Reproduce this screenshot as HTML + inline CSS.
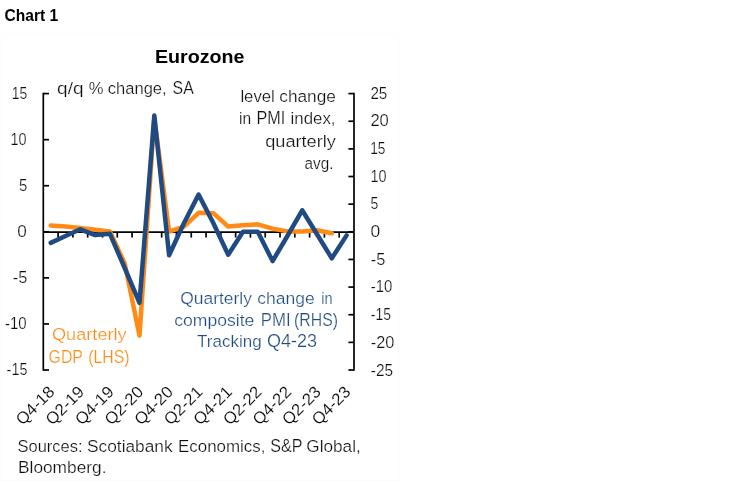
<!DOCTYPE html>
<html lang="en"><head><meta charset="utf-8"><title>Chart 1 - Eurozone</title>
<style>
html,body{margin:0;padding:0;background:#fff;}
body{width:748px;height:483px;overflow:hidden;font-family:"Liberation Sans",sans-serif;}
svg{display:block;}
text{font-family:"Liberation Sans",sans-serif;stroke:#fff;stroke-width:0.24px;}
.h{font-weight:bold;fill:#000;stroke:none;}
.ax{fill:#101010;}
.t{fill:#101010;}
.b{fill:#1f4b82;}
.o{fill:#ff8a15;}
.xl{fill:#0a0a0a;stroke-width:0.12px;}
</style></head><body>
<svg width="748" height="483" viewBox="0 0 748 483">
<rect width="748" height="483" fill="#fff"/>
<rect x="1.5" y="33.5" width="397" height="447" fill="none" stroke="#fbfbfb" stroke-width="1"/>
<text class="h" font-size="15.7" transform="translate(4.60 20.90) scale(0.9935 1)">Chart 1</text>
<text class="h" font-size="19.0" transform="translate(154.90 62.50) scale(1.0358 1)">Eurozone</text>
<g stroke="#000" stroke-width="1.7" fill="none">
<path d="M43.30 92.75V370.85"/>
<path d="M354.00 92.75V370.85"/>
<path d="M43.30 232.10H354.00"/>
<path d="M43.30 93.60h5.7"/>
<path d="M43.30 139.67h5.7"/>
<path d="M43.30 185.73h5.7"/>
<path d="M43.30 231.80h5.7"/>
<path d="M43.30 277.87h5.7"/>
<path d="M43.30 323.93h5.7"/>
<path d="M43.30 370.00h5.7"/>
<path d="M354.00 93.60h-5.6"/>
<path d="M354.00 121.24h-5.6"/>
<path d="M354.00 148.88h-5.6"/>
<path d="M354.00 176.52h-5.6"/>
<path d="M354.00 204.16h-5.6"/>
<path d="M354.00 231.80h-5.6"/>
<path d="M354.00 259.44h-5.6"/>
<path d="M354.00 287.08h-5.6"/>
<path d="M354.00 314.72h-5.6"/>
<path d="M354.00 342.36h-5.6"/>
<path d="M354.00 370.00h-5.6"/>
<path d="M58.10 232.10v5.5"/>
<path d="M72.89 232.10v5.5"/>
<path d="M87.69 232.10v5.5"/>
<path d="M102.48 232.10v5.5"/>
<path d="M117.28 232.10v5.5"/>
<path d="M132.07 232.10v5.5"/>
<path d="M146.87 232.10v5.5"/>
<path d="M161.66 232.10v5.5"/>
<path d="M176.46 232.10v5.5"/>
<path d="M191.25 232.10v5.5"/>
<path d="M206.05 232.10v5.5"/>
<path d="M220.84 232.10v5.5"/>
<path d="M235.64 232.10v5.5"/>
<path d="M250.43 232.10v5.5"/>
<path d="M265.23 232.10v5.5"/>
<path d="M280.02 232.10v5.5"/>
<path d="M294.82 232.10v5.5"/>
<path d="M309.61 232.10v5.5"/>
<path d="M324.41 232.10v5.5"/>
<path d="M339.20 232.10v5.5"/>
</g>
<polyline points="50.7,225.5 65.5,226.4 80.3,228.0 95.1,229.8 109.9,231.4 124.7,263.4 139.5,335.6 154.3,118.0 169.1,231.6 183.9,226.6 198.6,212.8 213.4,213.2 228.2,226.6 243.0,225.2 257.8,224.3 272.6,228.6 287.4,231.4 302.2,231.5 317.0,230.3 331.8,233.2" fill="none" stroke="#ff8a15" stroke-width="4.5" stroke-linejoin="round" stroke-linecap="round"/>
<polyline points="50.7,242.9 65.5,236.0 80.3,229.3 95.1,235.1 109.9,233.8 124.7,268.0 139.5,302.8 154.3,115.6 169.1,255.3 183.9,223.3 198.6,194.6 213.4,223.3 228.2,254.7 243.0,231.8 257.8,231.8 272.6,261.1 287.4,236.0 302.2,210.3 317.0,234.3 331.8,258.3 346.6,235.4" fill="none" stroke="#1f4b82" stroke-width="4.5" stroke-linejoin="round" stroke-linecap="round"/>
<text class="ax" font-size="16" transform="translate(11.80 98.70) scale(0.8732 1)">15</text>
<text class="ax" font-size="16" transform="translate(10.60 144.77) scale(0.9014 1)">10</text>
<text class="ax" font-size="16" transform="translate(19.10 190.83) scale(0.9352 1)">5</text>
<text class="ax" font-size="16" transform="translate(17.20 236.90) scale(1.0704 1)">0</text>
<text class="ax" font-size="16" transform="translate(12.80 282.97) scale(1.0246 1)">-5</text>
<text class="ax" font-size="16" transform="translate(4.90 329.03) scale(0.9384 1)">-10</text>
<text class="ax" font-size="16" transform="translate(6.60 375.10) scale(0.8995 1)">-15</text>
<text class="ax" font-size="16" transform="translate(370.40 98.70) scale(0.9521 1)">25</text>
<text class="ax" font-size="16" transform="translate(370.40 126.34) scale(1.0366 1)">20</text>
<text class="ax" font-size="16" transform="translate(370.17 153.98) scale(0.8600 1)">15</text>
<text class="ax" font-size="16" transform="translate(370.50 181.62) scale(0.9014 1)">10</text>
<text class="ax" font-size="16" transform="translate(370.60 209.26) scale(0.8789 1)">5</text>
<text class="ax" font-size="16" transform="translate(370.60 236.90) scale(1.0930 1)">0</text>
<text class="ax" font-size="16" transform="translate(370.80 264.84) scale(1.0246 1)">-5</text>
<text class="ax" font-size="16" transform="translate(370.80 292.28) scale(0.9341 1)">-10</text>
<text class="ax" font-size="16" transform="translate(370.80 320.22) scale(0.8692 1)">-15</text>
<text class="ax" font-size="16" transform="translate(370.80 348.36) scale(1.0205 1)">-20</text>
<text class="ax" font-size="16" transform="translate(370.80 375.70) scale(0.9643 1)">-25</text>
<text class="xl" font-size="16.5" transform="translate(55.6 392.9) rotate(-45) scale(1.02 1)" text-anchor="end">Q4-18</text>
<text class="xl" font-size="16.5" transform="translate(85.2 392.9) rotate(-45) scale(1.02 1)" text-anchor="end">Q2-19</text>
<text class="xl" font-size="16.5" transform="translate(114.8 392.9) rotate(-45) scale(1.02 1)" text-anchor="end">Q4-19</text>
<text class="xl" font-size="16.5" transform="translate(144.4 392.9) rotate(-45) scale(1.02 1)" text-anchor="end">Q2-20</text>
<text class="xl" font-size="16.5" transform="translate(174.0 392.9) rotate(-45) scale(1.02 1)" text-anchor="end">Q4-20</text>
<text class="xl" font-size="16.5" transform="translate(203.5 392.9) rotate(-45) scale(1.02 1)" text-anchor="end">Q2-21</text>
<text class="xl" font-size="16.5" transform="translate(233.1 392.9) rotate(-45) scale(1.02 1)" text-anchor="end">Q4-21</text>
<text class="xl" font-size="16.5" transform="translate(262.7 392.9) rotate(-45) scale(1.02 1)" text-anchor="end">Q2-22</text>
<text class="xl" font-size="16.5" transform="translate(292.3 392.9) rotate(-45) scale(1.02 1)" text-anchor="end">Q4-22</text>
<text class="xl" font-size="16.5" transform="translate(321.9 392.9) rotate(-45) scale(1.02 1)" text-anchor="end">Q2-23</text>
<text class="xl" font-size="16.5" transform="translate(351.5 392.9) rotate(-45) scale(1.02 1)" text-anchor="end">Q4-23</text>
<g><text class="t" font-size="17" transform="translate(57.12 93.70) scale(1.1200 1)">q/q</text><text class="t" font-size="17" transform="translate(88.70 93.70) scale(0.9785 1)">%</text><text class="t" font-size="17" transform="translate(107.80 93.70) scale(0.9736 1)">change,</text><text class="t" font-size="18.4" transform="translate(172.60 93.70) scale(0.8612 1)">SA</text></g>
<g><text class="t" font-size="17" transform="translate(240.40 101.70) scale(0.9857 1)">level</text><text class="t" font-size="17" transform="translate(279.30 101.70) scale(1.0152 1)">change</text></g>
<g><text class="t" font-size="17" transform="translate(239.00 123.80) scale(0.9132 1)">in</text><text class="t" font-size="18.4" transform="translate(256.50 123.80) scale(0.8797 1)">PMI</text><text class="t" font-size="17" transform="translate(290.60 123.80) scale(0.9895 1)">index,</text></g>
<g><text class="t" font-size="17" transform="translate(265.20 147.00) scale(1.0692 1)">quarterly</text></g>
<g><text class="t" font-size="17" transform="translate(304.50 168.80) scale(0.8996 1)">avg.</text></g>
<g><text class="b" font-size="17" transform="translate(180.20 304.10) scale(1.0275 1)">Quarterly</text><text class="b" font-size="17" transform="translate(257.20 304.10) scale(1.0296 1)">change</text><text class="b" font-size="17" transform="translate(321.35 304.10) scale(0.8600 1)">in</text></g>
<g><text class="b" font-size="17" transform="translate(174.20 325.70) scale(1.0348 1)">composite</text><text class="b" font-size="18.4" transform="translate(260.80 325.70) scale(0.9103 1)">PMI</text><text class="b" font-size="18.4" transform="translate(294.02 325.70) scale(0.8600 1)">(RHS)</text></g>
<g><text class="b" font-size="17" transform="translate(197.10 346.70) scale(1.0000 1)">Tracking</text><text class="b" font-size="18.4" transform="translate(266.90 346.70) scale(0.9800 1)">Q4-23</text></g>
<g><text class="o" font-size="17" transform="translate(52.00 339.80) scale(1.0691 1)">Quarterly</text></g>
<g><text class="o" font-size="18.4" transform="translate(48.60 362.50) scale(0.8600 1)">GDP</text><text class="o" font-size="18.4" transform="translate(88.16 362.50) scale(0.8600 1)">(LHS)</text></g>
<g><text class="t" font-size="17" transform="translate(17.50 451.50) scale(0.9698 1)">Sources:</text><text class="t" font-size="17" transform="translate(87.10 451.50) scale(1.0172 1)">Scotiabank</text><text class="t" font-size="17" transform="translate(178.00 451.50) scale(0.9957 1)">Economics,</text><text class="t" font-size="18.4" transform="translate(270.20 451.50) scale(0.8735 1)">S&amp;P</text><text class="t" font-size="17" transform="translate(306.30 451.50) scale(1.0116 1)">Global,</text></g>
<g><text class="t" font-size="17" transform="translate(18.00 473.10) scale(1.0184 1)">Bloomberg.</text></g>
</svg>
</body></html>
